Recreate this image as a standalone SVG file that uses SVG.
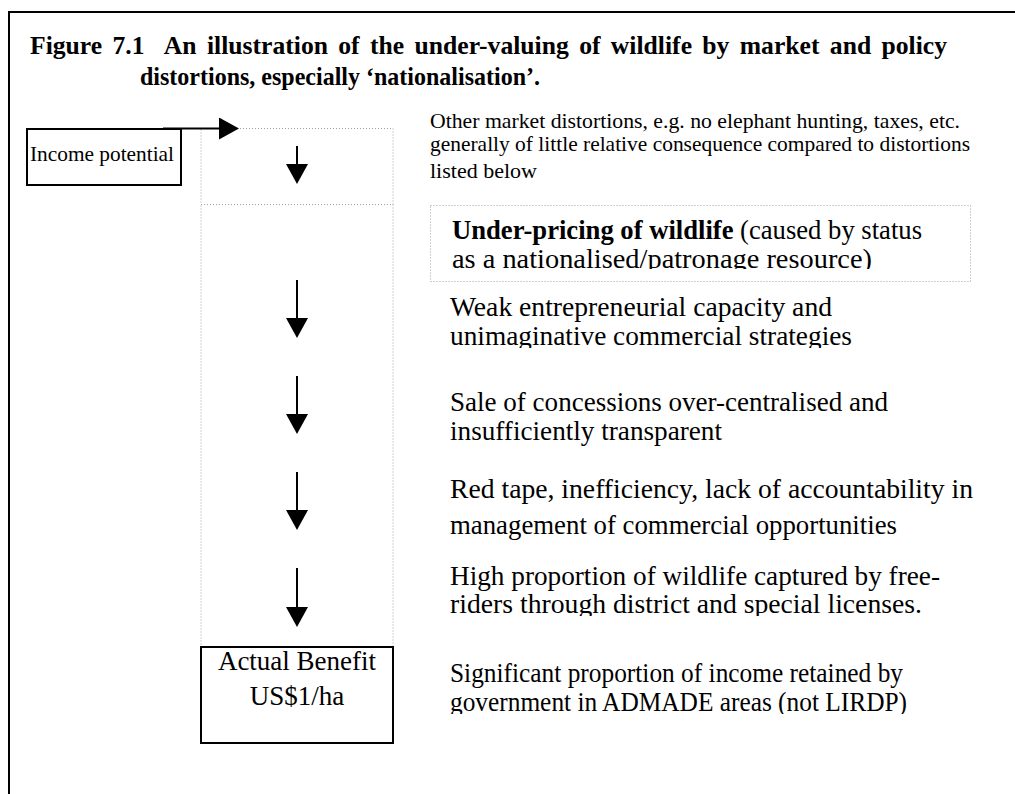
<svg xmlns="http://www.w3.org/2000/svg" width="1015" height="794" viewBox="0 0 1015 794">
  <style>
    text { font-family: "Liberation Serif", "Times New Roman", serif; fill: #000; }
    .title { font-size: 26px; font-weight: bold; }
    .small { font-size: 21.5px; }
    .body { font-size: 27px; }
    .label { font-size: 22px; }
    .box { fill: #fff; stroke: #000; stroke-width: 2; }
    .dotted { fill: none; stroke: #a0a0a0; stroke-width: 1; stroke-dasharray: 1 2; }
    .flow { stroke: #000; stroke-width: 2; fill: none; }
  </style>
  <defs>
    <marker id="head" viewBox="0 0 20 22" markerWidth="20" markerHeight="22" refX="0" refY="11" orient="auto" markerUnits="userSpaceOnUse">
      <path d="M0,0 L20,11 L0,22 z" fill="#000"/>
    </marker>
    <clipPath id="clip-underpricing"><rect x="430" y="205" width="540" height="64"/></clipPath>
    <clipPath id="clip-entrepreneurial"><rect x="440" y="288" width="560" height="60"/></clipPath>
    <clipPath id="clip-freeriders"><rect x="440" y="556" width="560" height="60"/></clipPath>
    <clipPath id="clip-retention"><rect x="440" y="652" width="560" height="62"/></clipPath>
  </defs>

  <rect width="1015" height="794" fill="#fff"/>

  <!-- outer frame: top and left rules -->
  <g id="frame">
    <path d="M9,794 L9,12 L1015,12" fill="none" stroke="#000" stroke-width="2"/>
  </g>

  <!-- caption: first line justified to the full measure -->
  <g id="title">
    <text class="title" x="30" y="54" xml:space="preserve" word-spacing="4" textLength="917" lengthAdjust="spacingAndGlyphs">Figure 7.1  An illustration of the under-valuing of wildlife by market and policy</text>
    <text class="title" x="140" y="85" textLength="400" lengthAdjust="spacingAndGlyphs">distortions, especially ‘nationalisation’.</text>
  </g>

  <!-- income column: dotted stages -->
  <g id="column">
    <rect class="dotted" x="201" y="128.5" width="192" height="76"/>
    <rect class="dotted" x="201" y="204.5" width="192" height="442"/>
  </g>

  <g id="income-potential">
    <rect class="box" x="27" y="129" width="154" height="56"/>
    <text class="label" x="30" y="161" textLength="144" lengthAdjust="spacingAndGlyphs">Income potential</text>
  </g>

  <g id="actual-benefit">
    <rect class="box" x="201" y="647" width="192" height="96"/>
    <text class="body" x="297" y="670" text-anchor="middle">Actual Benefit</text>
    <text class="body" x="297" y="705" text-anchor="middle">US$1/ha</text>
  </g>

  <g id="note-other">
    <text class="small" x="430" y="128" textLength="530" lengthAdjust="spacingAndGlyphs">Other market distortions, e.g. no elephant hunting, taxes, etc.</text>
    <text class="small" x="430" y="151" textLength="540" lengthAdjust="spacingAndGlyphs">generally of little relative consequence compared to distortions</text>
    <text class="small" x="430" y="178" textLength="107" lengthAdjust="spacingAndGlyphs">listed below</text>
  </g>

  <g id="cause-underpricing">
    <rect class="dotted" x="430.5" y="205.5" width="540" height="76"/>
    <g clip-path="url(#clip-underpricing)">
      <text class="body" x="452" y="239" textLength="470" lengthAdjust="spacingAndGlyphs"><tspan font-weight="bold">Under-pricing of wildlife</tspan> (caused by status</text>
      <text class="body" x="452" y="268" textLength="420" lengthAdjust="spacingAndGlyphs">as a nationalised/patronage resource)</text>
    </g>
  </g>

  <g id="cause-entrepreneurial" clip-path="url(#clip-entrepreneurial)">
    <text class="body" x="450" y="316" textLength="382" lengthAdjust="spacingAndGlyphs">Weak entrepreneurial capacity and</text>
    <text class="body" x="450" y="345" textLength="402" lengthAdjust="spacingAndGlyphs">unimaginative commercial strategies</text>
  </g>

  <g id="cause-concessions">
    <text class="body" x="450" y="411" textLength="438" lengthAdjust="spacingAndGlyphs">Sale of concessions over-centralised and</text>
    <text class="body" x="450" y="440" textLength="272" lengthAdjust="spacingAndGlyphs">insufficiently transparent</text>
  </g>

  <g id="cause-redtape">
    <text class="body" x="450" y="498" textLength="523" lengthAdjust="spacingAndGlyphs">Red tape, inefficiency, lack of accountability in</text>
    <text class="body" x="450" y="534" textLength="447" lengthAdjust="spacingAndGlyphs">management of commercial opportunities</text>
  </g>

  <g id="cause-freeriders" clip-path="url(#clip-freeriders)">
    <text class="body" x="450" y="585" textLength="490" lengthAdjust="spacingAndGlyphs">High proportion of wildlife captured by free-</text>
    <text class="body" x="450" y="613" textLength="472" lengthAdjust="spacingAndGlyphs">riders through district and special licenses.</text>
  </g>

  <g id="cause-retention" clip-path="url(#clip-retention)">
    <text class="body" x="450" y="682" textLength="453" lengthAdjust="spacingAndGlyphs">Significant proportion of income retained by</text>
    <text class="body" x="450" y="711" textLength="457" lengthAdjust="spacingAndGlyphs">government in ADMADE areas (not LIRDP)</text>
  </g>

  <!-- connectors -->
  <g id="connectors">
    <line class="flow" x1="163" y1="128.5" x2="219" y2="128.5" marker-end="url(#head)"/>
    <line class="flow" x1="297" y1="146" x2="297" y2="164" marker-end="url(#head)"/>
    <line class="flow" x1="297" y1="280" x2="297" y2="318" marker-end="url(#head)"/>
    <line class="flow" x1="297" y1="376" x2="297" y2="414" marker-end="url(#head)"/>
    <line class="flow" x1="297" y1="472" x2="297" y2="510" marker-end="url(#head)"/>
    <line class="flow" x1="297" y1="568" x2="297" y2="607" marker-end="url(#head)"/>
  </g>
</svg>
